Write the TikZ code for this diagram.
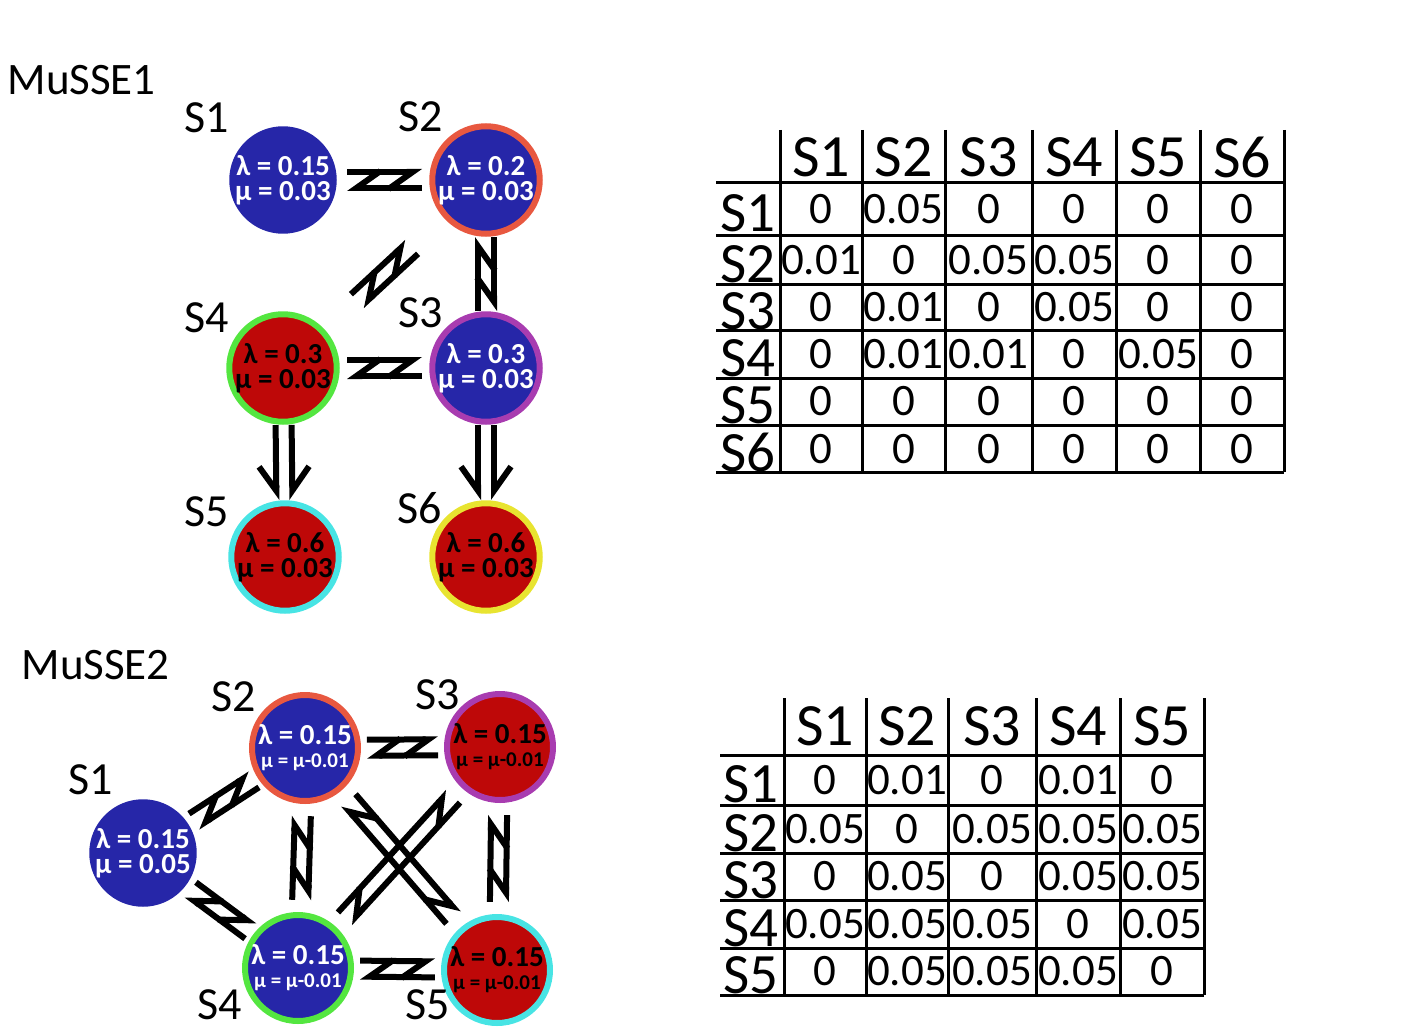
\documentclass[tikz,border=0pt]{standalone}
\usepackage{fontspec}
\setmainfont{Carlito}
\usetikzlibrary{arrows.meta,calc}
\definecolor{stblue}{RGB}{38,38,168}
\definecolor{stred}{RGB}{190,8,8}
\definecolor{bdorange}{RGB}{232,88,64}
\definecolor{bdpurple}{RGB}{168,60,176}
\definecolor{bdgreen}{RGB}{84,230,64}
\definecolor{bdcyan}{RGB}{72,228,228}
\definecolor{bdyellow}{RGB}{232,228,48}
\tikzset{
  state/.style={circle,minimum size=#1,inner sep=0pt,line width=6pt,align=center,font=\fontsize{29}{29}\selectfont\bfseries},
  state/.default=106pt,
  harp/.style={line width=6pt,-{Straight Barb[harpoon,length=24pt,width=34pt,line width=6pt]}},
  harpsw/.style={line width=6pt,-{Straight Barb[harpoon,swap,length=24pt,width=34pt,line width=6pt]}},
  lab/.style={font=\fontsize{46}{46}\selectfont},
  cell/.style={font=\fontsize{45}{45}\selectfont,inner sep=0pt},
  head/.style={font=\fontsize{60}{60}\selectfont,inner sep=0pt},
  rowhead/.style={font=\fontsize{57}{57}\selectfont,inner sep=0pt,anchor=south},
  grid/.style={line width=3pt}
}
% pair of harpoons between two nodes
\newcommand\harps[3]{%
  \draw[harpsw,shorten <=#3,shorten >=#3] ($(#1)!8pt!90:(#2)$) -- ($(#2)!8pt!-90:(#1)$);
  \draw[harpsw,shorten <=#3,shorten >=#3] ($(#2)!8pt!90:(#1)$) -- ($(#1)!8pt!-90:(#2)$);}
% two harpoons from one node to another
\newcommand\downs[3]{%
  \draw[harp,shorten <=#3,shorten >=#3] ($(#1)!8pt!90:(#2)$) -- ($(#2)!8pt!-90:(#1)$);
  \draw[harpsw,shorten <=#3,shorten >=#3] ($(#1)!8pt!-90:(#2)$) -- ($(#2)!8pt!90:(#1)$);}
\begin{document}
\begin{tikzpicture}[x=1pt,y=-1pt]
  \useasboundingbox (0,0) rectangle (1410,1035);
  % MuSSE1
  \node[anchor=west,font=\fontsize{45}{45}\selectfont] (m1) at (4,80) {MuSSE1};
  \node[state,fill=stblue,text=white] (a1) at (283,180) {λ = 0.15\\[-4pt]μ = 0.03};
  \node[state,fill=stblue,draw=bdorange,text=white] (a2) at (486,180) {λ = 0.2\\[-4pt]μ = 0.03};
  \node[state,fill=stred,draw=bdgreen] (a4) at (283,368) {λ = 0.3\\[-4pt]μ = 0.03};
  \node[state,fill=stblue,draw=bdpurple,text=white] (a3) at (486,368) {λ = 0.3\\[-4pt]μ = 0.03};
  \node[state,fill=stred,draw=bdcyan] (a5) at (285,557) {λ = 0.6\\[-4pt]μ = 0.03};
  \node[state,fill=stred,draw=bdyellow] (a6) at (486,557) {λ = 0.6\\[-4pt]μ = 0.03};
  \node[lab] (la1) at (207,118) {S1};
  \node[lab] (la2) at (421,117) {S2};
  \node[lab] (la4) at (207,318) {S4};
  \node[lab] (la3) at (421,313) {S3};
  \node[lab] (la5) at (207,512) {S5};
  \node[lab] (la6) at (420,508) {S6};
  \harps{a1}{a2}{64pt}
  \harps{a2}{a3}{57pt}
  \harps{a4}{a3}{64pt}
  \harps{a2}{a4}{100pt}
  \downs{a4}{a5}{57pt}
  \downs{a3}{a6}{57pt}
  % MuSSE2
  \node[anchor=west,font=\fontsize{45}{45}\selectfont] (m2) at (18,665) {MuSSE2};
  \node[state=100pt,fill=stblue,text=white] (b1) at (143,853) {λ = 0.15\\[-4pt]μ = 0.05};
  \node[state,fill=stblue,draw=bdorange,text=white] (b2) at (305,748) {λ = 0.15\\[-6pt]{\fontsize{21}{21}\selectfont μ = μ-0.01}};
  \node[state,fill=stred,draw=bdpurple] (b3) at (500,747) {λ = 0.15\\[-6pt]{\fontsize{21}{21}\selectfont μ = μ-0.01}};
  \node[state,fill=stblue,draw=bdgreen,text=white] (b4) at (298,968) {λ = 0.15\\[-6pt]{\fontsize{21}{21}\selectfont μ = μ-0.01}};
  \node[state,fill=stred,draw=bdcyan] (b5) at (497,970) {λ = 0.15\\[-6pt]{\fontsize{21}{21}\selectfont μ = μ-0.01}};
  \node[lab] (lb1) at (91,780) {S1};
  \node[lab] (lb2) at (234,697) {S2};
  \node[lab] (lb3) at (438,695) {S3};
  \node[lab] (lb4) at (220,1005) {S4};
  \node[lab] (lb5) at (428,1005) {S5};
  \harps{b1}{b2}{60pt}
  \harps{b4}{b1}{60pt}
  \harps{b2}{b3}{62pt}
  \harps{b4}{b5}{62pt}
  \harps{b4}{b2}{68pt}
  \harps{b3}{b5}{68pt}
  \harps{b2}{b5}{68pt}
  \harps{b4}{b3}{68pt}
  % table 1
  \foreach \x in {780,862,945,1032,1116,1200,1284}
    \draw[grid] (\x,130) -- (\x,472);
  \foreach \y in {183,235,284,330,378,425,472}
    \draw[grid] (716,\y) -- (1284,\y);
  \def\colsA{{821,903.5,988.5,1074,1158,1242}}
  \def\rowsA{{209,260,307,354,401,449}}
  \foreach \c in {1,...,6}{
    \pgfmathsetmacro\cx{\colsA[\c-1]}
    \node[head] (ha\c) at (\cx,157) {S\c};
    \pgfmathsetmacro\ry{\rowsA[\c-1]}
    \node[rowhead] (ra\c) at (748,\ry+23) {S\c};}
  \foreach \r/\vals in {1/{0,0.05,0,0,0,0},2/{0.01,0,0.05,0.05,0,0},3/{0,0.01,0,0.05,0,0},
      4/{0,0.01,0.01,0,0.05,0},5/{0,0,0,0,0,0},6/{0,0,0,0,0,0}}{
    \pgfmathsetmacro\ry{\rowsA[\r-1]}
    \foreach \v [count=\c] in \vals{
      \pgfmathsetmacro\cx{\colsA[\c-1]}
      \node[cell] (ca\r\c) at (\cx,\ry) {\v};}}
  % table 2
  \foreach \x in {784,866,948,1036,1120,1204}
    \draw[grid] (\x,698) -- (\x,995);
  \foreach \y in {755,805,853,900,948,995}
    \draw[grid] (720,\y) -- (1204,\y);
  \def\colsB{{825,907,992,1078,1162}}
  \def\rowsB{{780,829,876,924,971}}
  \foreach \c in {1,...,5}{
    \pgfmathsetmacro\cx{\colsB[\c-1]}
    \node[head] (hb\c) at (\cx,726) {S\c};
    \pgfmathsetmacro\ry{\rowsB[\c-1]}
    \node[rowhead] (rb\c) at (751,\ry+23) {S\c};}
  \foreach \r/\vals in {1/{0,0.01,0,0.01,0},2/{0.05,0,0.05,0.05,0.05},3/{0,0.05,0,0.05,0.05},
      4/{0.05,0.05,0.05,0,0.05},5/{0,0.05,0.05,0.05,0}}{
    \pgfmathsetmacro\ry{\rowsB[\r-1]}
    \foreach \v [count=\c] in \vals{
      \pgfmathsetmacro\cx{\colsB[\c-1]}
      \node[cell] (cb\r\c) at (\cx,\ry) {\v};}}
\end{tikzpicture}
\end{document}
